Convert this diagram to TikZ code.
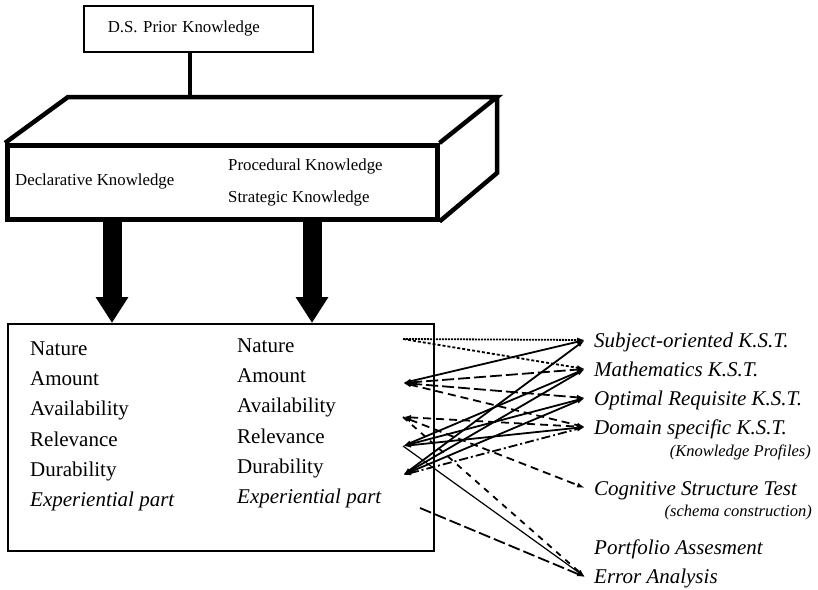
\documentclass[tikz,border=0pt]{standalone}
\usepackage{fontspec}
\setmainfont{Liberation Serif}
\usetikzlibrary{arrows.meta}
\begin{document}
\begin{tikzpicture}[x=1pt,y=-1pt,
  big/.style={font=\fontsize{21}{25}\selectfont},
  bigit/.style={font=\fontsize{21}{25}\selectfont\itshape},
  boxtxt/.style={font=\fontsize{16.8}{20}\selectfont},
  note/.style={font=\fontsize{16.5}{20}\selectfont\itshape},
  lbl/.style={inner sep=0pt, anchor=base west},
  notelbl/.style={note, inner sep=0pt, anchor=base east},
  solidbox/.style={draw, inner sep=0pt, anchor=north west},
  heavy/.style={line width=4.5pt},
  bigarrow/.style={line width=19pt, -{Triangle[length=26pt,width=31pt]}},
  link/.style={line width=1.8pt},
  both/.style={{Latex[length=8pt,width=5pt]}-{Latex[length=8pt,width=5pt]}},
  toend/.style={-{Latex[length=8pt,width=5pt]}},
  dots/.style={dash pattern=on 2pt off 1pt},
  fine/.style={dash pattern=on 3pt off 2pt},
  longdash/.style={dash pattern=on 12pt off 4pt},
  middash/.style={dash pattern=on 8pt off 5pt},
  shortdash/.style={dash pattern=on 6pt off 6pt},
  dashdot/.style={dash pattern=on 9pt off 3pt on 2pt off 3pt},
]
\useasboundingbox (0,0) rectangle (818,589);

% prior knowledge box and its stem
\node[solidbox, line width=1.5pt, minimum height=46pt, text width=181pt,
      inner xsep=24pt, align=left, boxtxt] (prior) at (83,5) {D.S. Prior Knowledge};
\coordinate (stem) at (190,97);
\draw[line width=4.5pt] (prior.south -| stem) -- (stem);

% three-dimensional knowledge block
\node[solidbox, heavy, minimum width=430pt, minimum height=74pt] (front) at (5,143) {};
\coordinate (backl) at (68,97);
\coordinate (backr) at (497,97);
\coordinate (backbr) at (497,173);
\draw[heavy] (front.north west) -- (backl) -- (backr) -- (front.north east);
\draw[heavy] (backr) -- (backbr) -- (front.south east);
\node[lbl, boxtxt] (decl) at (15,185) {Declarative Knowledge};
\node[lbl, boxtxt] (proc) at (228,170) {Procedural Knowledge};
\node[lbl, boxtxt] (strat) at (228,202) {Strategic Knowledge};

% knowledge properties box
\node[solidbox, line width=1.8pt, minimum width=426pt, minimum height=227pt] (mem) at (7,323) {};
\coordinate (colA) at (112,0);
\coordinate (colB) at (312,0);
\draw[bigarrow] (front.south -| colA) -- (mem.north -| colA);
\draw[bigarrow] (front.south -| colB) -- (mem.north -| colB);

\node[lbl, big] (na1) at (30,355) {Nature};
\node[lbl, big] (am1) at (30,385) {Amount};
\node[lbl, big] (av1) at (30,415) {Availability};
\node[lbl, big] (re1) at (30,446) {Relevance};
\node[lbl, big] (du1) at (30,476) {Durability};
\node[lbl, bigit] (ex1) at (30,506) {Experiential part};

\node[lbl, big] (na2) at (237,352) {Nature};
\node[lbl, big] (am2) at (237,382) {Amount};
\node[lbl, big] (av2) at (237,412) {Availability};
\node[lbl, big] (re2) at (237,443) {Relevance};
\node[lbl, big] (du2) at (237,473) {Durability};
\node[lbl, bigit] (ex2) at (237,503) {Experiential part};

% assessment instruments
\node[lbl, bigit] (subj) at (594,347) {Subject-oriented K.S.T.};
\node[lbl, bigit] (math) at (594,376) {Mathematics K.S.T.};
\node[lbl, bigit] (opt) at (594,405) {Optimal Requisite K.S.T.};
\node[lbl, bigit] (dom) at (594,434) {Domain specific K.S.T.};
\node[notelbl] (prof) at (811,456) {(Knowledge Profiles)};
\node[lbl, bigit] (cog) at (594,495) {Cognitive Structure Test};
\node[notelbl] (schema) at (812,516) {(schema construction)};
\node[lbl, bigit] (port) at (594,554) {Portfolio Assesment};
\node[lbl, bigit] (err) at (594,583) {Error Analysis};

% link end points
\coordinate (l1) at (403,339);
\coordinate (l2) at (403,383);
\coordinate (l3) at (403,417);
\coordinate (l4) at (403,446);
\coordinate (l5) at (403,475);
\coordinate (l6) at (420,508);
\coordinate (r1) at (585,340);
\coordinate (r2) at (585,369);
\coordinate (r3) at (585,398);
\coordinate (r4) at (585,427);
\coordinate (r5) at (585,488);
\coordinate (r6) at (585,577);

% links between properties and instruments
\draw[link, dots, toend] (l1) -- (r1);
\draw[link, fine, toend] (l1) -- (r2);
\draw[link, both] (l2) -- (r1);
\draw[link, longdash, both] (l2) -- (r2);
\draw[link, longdash, both] (l2) -- (r3);
\draw[link, middash, both] (l2) -- (r4);
\draw[link, middash, both] (l3) -- (r4);
\draw[link, middash, both] (l3) -- (r5);
\draw[link, shortdash, toend] (l3) -- (r6);
\draw[link, both] (l4) -- (r2);
\draw[link, both] (l4) -- (r3);
\draw[link, both] (l4) -- (r4);
\draw[line width=1.2pt, toend] (l4) -- (r6);
\draw[link, both] (l5) -- (r1);
\draw[link, both] (l5) -- (r2);
\draw[link, both] (l5) -- (r3);
\draw[link, dashdot, both] (l5) -- (r4);
\draw[link, longdash, toend] (l6) -- (r6);
\end{tikzpicture}
\end{document}
